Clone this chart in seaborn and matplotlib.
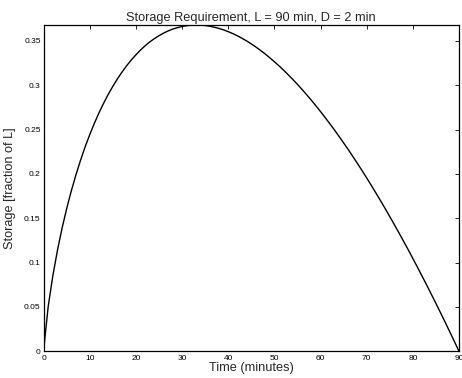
import matplotlib
matplotlib.use("Agg")
import matplotlib.pyplot as plt
import seaborn as sns
import pandas as pd

# Time (minutes), read at 1-minute spacing
time_min = list(range(0, 91))
# Storage as fraction of L
storage = [
    0.0000, 0.0500, 0.0846, 0.1134, 0.1384, 0.1606, 0.1805, 0.1986, 0.2151, 0.2303,
    0.2441, 0.2569, 0.2687, 0.2795, 0.2895, 0.2986, 0.3071, 0.3148, 0.3219, 0.3284,
    0.3342, 0.3396, 0.3444, 0.3487, 0.3525, 0.3558, 0.3587, 0.3612, 0.3633, 0.3649,
    0.3662, 0.3671, 0.3677, 0.3679, 0.3677, 0.3673, 0.3665, 0.3654, 0.3640, 0.3624,
    0.3604, 0.3582, 0.3557, 0.3529, 0.3499, 0.3466, 0.3431, 0.3393, 0.3353, 0.3310,
    0.3265, 0.3219, 0.3170, 0.3118, 0.3065, 0.3010, 0.2952, 0.2893, 0.2832, 0.2768,
    0.2703, 0.2636, 0.2567, 0.2497, 0.2424, 0.2350, 0.2275, 0.2197, 0.2118, 0.2037,
    0.1955, 0.1871, 0.1785, 0.1698, 0.1610, 0.1519, 0.1428, 0.1335, 0.1240, 0.1145,
    0.1047, 0.0948, 0.0848, 0.0747, 0.0644, 0.0540, 0.0435, 0.0328, 0.0220, 0.0111,
    0.0000,
]
x_ticks = [0, 10, 20, 30, 40, 50, 60, 70, 80, 90]
y_ticks = [0, 0.05, 0.1, 0.15, 0.2, 0.25, 0.3, 0.35]
y_tick_labels = ["0", "0.05", "0.1", "0.15", "0.2", "0.25", "0.3", "0.35"]

title = "Storage Requirement, L = 90 min, D = 2 min"
xlabel = "Time (minutes)"
ylabel = "Storage [fraction of L]"

sns.set_style("white")
plt.rcParams["font.family"] = ["Liberation Sans", "DejaVu Sans"]

df = pd.DataFrame({"t": time_min, "s": storage})

fig = plt.figure(figsize=(4.62, 3.78), dpi=100)
ax = fig.add_axes([0.0942, 0.0706, 0.8993, 0.8633])

sns.lineplot(data=df, x="t", y="s", ax=ax, color="black", linewidth=1.0)

ax.set_xlim(0, 90)
ax.set_ylim(0, max(storage))
ax.set_xticks(x_ticks)
ax.set_xticklabels([str(v) for v in x_ticks])
ax.set_yticks(y_ticks)
ax.set_yticklabels(y_tick_labels)

ax.tick_params(direction="in", length=3, width=0.6, labelsize=6,
               top=True, right=True, colors="black")
ax.tick_params(axis="x", pad=2.5)
ax.tick_params(axis="y", pad=2)
for sp in ax.spines.values():
    sp.set_visible(True)
    sp.set_color("black")
    sp.set_linewidth(0.9)

ax.set_title(title, fontsize=9.2, pad=3)
ax.set_xlabel(xlabel, fontsize=9.2, labelpad=0)
ax.set_ylabel(ylabel, fontsize=9.2, labelpad=6)

fig.savefig("out.png", dpi=100)
